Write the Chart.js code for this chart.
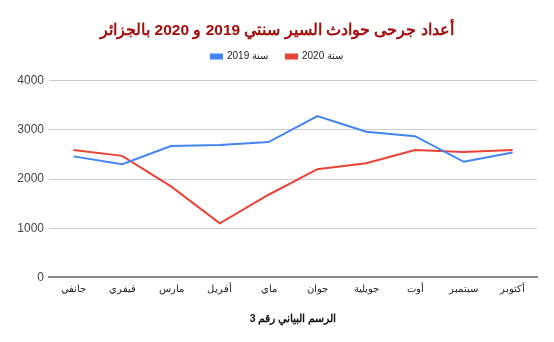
<!DOCTYPE html>
<html>
<head>
<meta charset="utf-8">
<script src="https://cdn.jsdelivr.net/npm/chart.js@4/dist/chart.umd.min.js"></script>
<style>
  body { margin: 0; background: #fff; }
  #wrap { width: 554px; height: 342px; }
</style>
</head>
<body>
<div id="wrap"><canvas id="mycanvas" width="554" height="342"></canvas></div>
<script>
var months = ['جانفي', 'فيفري', 'مارس', 'أفريل', 'ماي', 'جوان', 'جويلية', 'أوت', 'سبتمبر', 'أكتوبر'];
var year2019 = [2460, 2300, 2670, 2690, 2750, 3280, 2960, 2870, 2350, 2540];
var year2020 = [2590, 2470, 1850, 1100, 1680, 2200, 2320, 2590, 2550, 2590];
var yTicks = [0, 1000, 2000, 3000, 4000];

var chartTitle = 'أعداد جرحى حوادث السير سنتي 2019 و 2020 بالجزائر';
var xTitle = 'الرسم البياني رقم 3';

// a bit more room under the legend
var legendGap = {
	id: 'legendGap',
	afterInit: function(chart) {
		var fit = chart.legend.fit;
		chart.legend.fit = function() {
			fit.call(this);
			this.height += 9;
		};
	}
};

var ctx = document.getElementById('mycanvas');

new Chart(ctx, {
	type: 'line',
	data: {
		labels: months,
		datasets: [
			{
				label: 'سنة 2019',
				data: year2019,
				borderColor: '#4285f4',
				backgroundColor: '#4285f4',
				borderWidth: 2,
				pointRadius: 0,
				tension: 0
			},
			{
				label: 'سنة 2020',
				data: year2020,
				borderColor: '#ea4335',
				backgroundColor: '#ea4335',
				borderWidth: 2,
				pointRadius: 0,
				tension: 0
			}
		]
	},
	plugins: [legendGap],
	options: {
		responsive: false,
		animation: false,
		layout: { padding: { left: 17, right: 17, top: 0, bottom: 17 } },
		plugins: {
			title: {
				display: true,
				text: chartTitle,
				color: '#a50d0d',
				font: { family: 'Liberation Sans, Arial', size: 15.5, weight: 'bold' },
				padding: { top: 21, bottom: -6 }
			},
			legend: {
				display: true,
				labels: {
					boxWidth: 11,
					boxHeight: 4,
					color: '#222',
					font: { family: 'Liberation Sans, Arial', size: 10 },
					padding: 18
				}
			},
			tooltip: { enabled: false }
		},
		scales: {
			x: {
				offset: true,
				grid: { display: false, drawTicks: false },
				border: { display: true, color: '#8a8a8a', width: 2 },
				ticks: {
					color: '#222',
					font: { family: 'Liberation Sans, Arial', size: 10 },
					padding: 6,
					maxRotation: 0
				},
				title: {
					display: true,
					text: xTitle,
					color: '#111',
					font: { family: 'Liberation Sans, Arial', size: 10.5, weight: 'bold' },
					padding: { top: 11, bottom: 0 }
				}
			},
			y: {
				min: 0,
				max: 4000,
				afterBuildTicks: function(axis) {
					axis.ticks = yTicks.map(function(v) { return { value: v }; });
				},
				afterFit: function(axis) { axis.width = 32; },
				grid: {
					color: function(c) { return c.tick.value === 0 ? '#8a8a8a' : '#cccccc'; },
					drawTicks: false
				},
				border: { display: false },
				ticks: {
					color: '#444',
					font: { family: 'Liberation Sans, Arial', size: 12 },
					padding: 5,
					callback: function(v) { return String(v); }
				}
			}
		}
	}
});
</script>
</body>
</html>
